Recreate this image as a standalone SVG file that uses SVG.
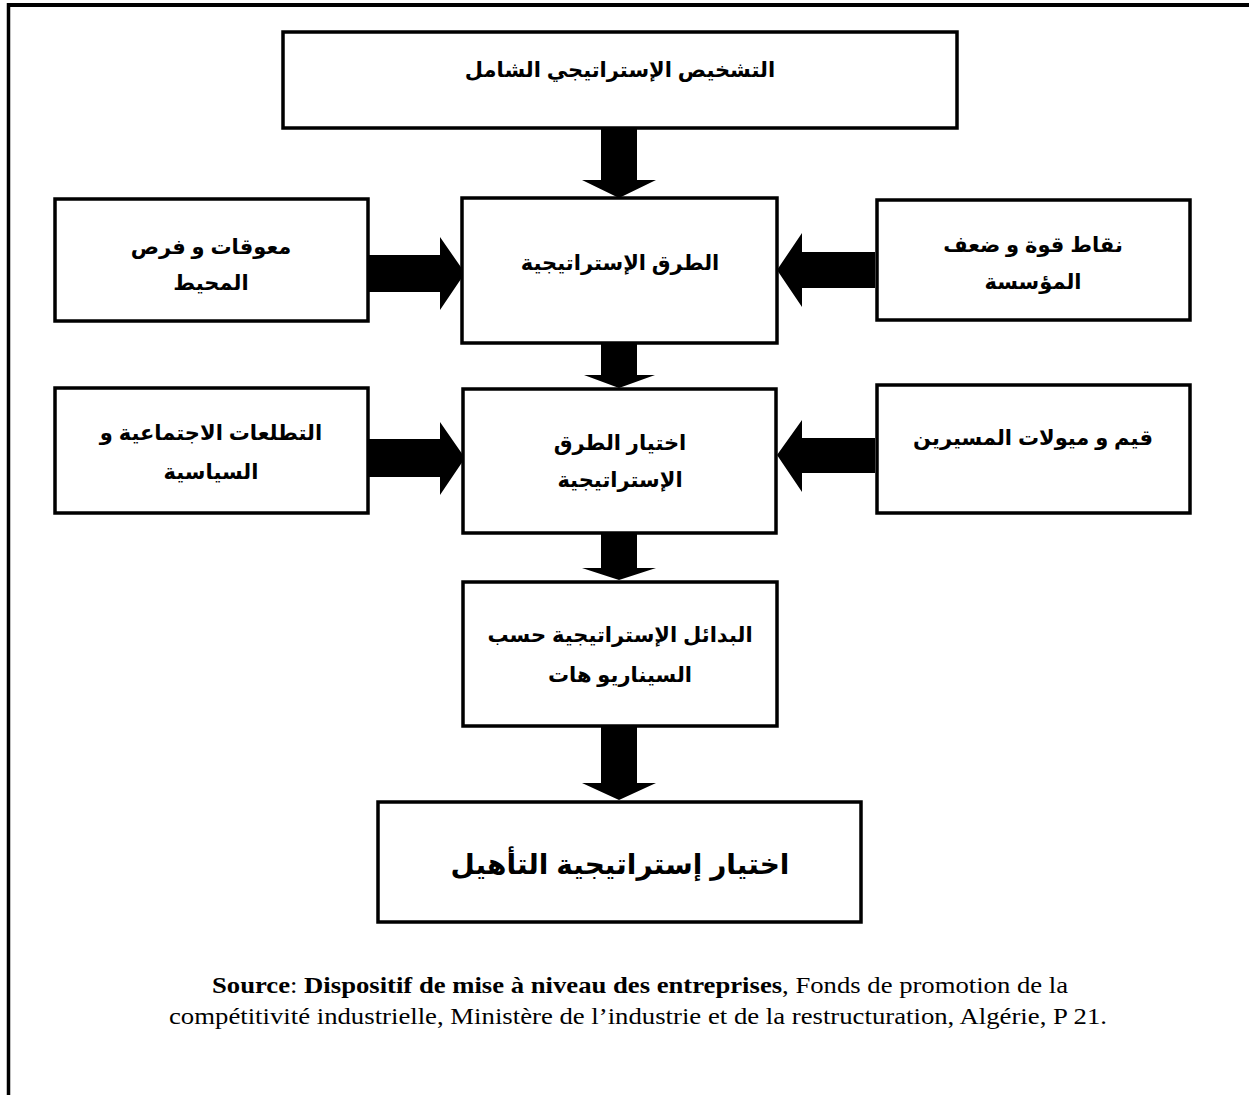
<svg xmlns="http://www.w3.org/2000/svg" width="1249" height="1095" viewBox="0 0 1249 1095">
<style>
.box{fill:#fff;stroke:#000;stroke-width:3.5}
.ar{font-family:"Liberation Sans","DejaVu Sans",sans-serif;font-weight:bold;font-size:21px;fill:#000;text-anchor:middle;direction:rtl}
.big{font-size:28px}
.arrow{fill:#000;stroke:none}
.src{font-family:"Liberation Serif","Times New Roman",serif;font-size:24px;fill:#000;text-anchor:middle}
.b{font-weight:bold}
</style>
<rect width="1249" height="1095" fill="#fff"/>
<g id="frame">
<line x1="7" y1="5" x2="1249" y2="5" stroke="#000" stroke-width="4"/>
<line x1="8.5" y1="3" x2="8.5" y2="1095" stroke="#000" stroke-width="3.5"/>
</g>
<g id="connectors">
<polygon class="arrow" points="601,128 637,128 637,180 656,180 619,198 582,180 601,180"/>
<polygon class="arrow" points="601,343 637,343 637,375 655,375 619,388 584,375 601,375"/>
<polygon class="arrow" points="601,533 637,533 637,568 656,568 619,580 582,568 601,568"/>
<polygon class="arrow" points="601,726 637,726 637,783 656,783 619,800 582,783 601,783"/>
<polygon class="arrow" points="368,255 440,255 440,237 465,273 440,310 440,292 368,292"/>
<polygon class="arrow" points="875,252 802,252 802,233 777,270 802,307 802,288 875,288"/>
<polygon class="arrow" points="368,439 440,439 440,422 465,458 440,495 440,477 368,477"/>
<polygon class="arrow" points="875,438 802,438 802,420 777,455 802,492 802,473 875,473"/>
</g>
<g id="n-diagnostic">
<rect class="box" x="283" y="32" width="674" height="96"/>
<text class="ar" x="620" y="77">التشخيص الإستراتيجي الشامل</text>
</g>
<g id="n-routes">
<rect class="box" x="462" y="198" width="315" height="145"/>
<text class="ar" x="620" y="270">الطرق الإستراتيجية</text>
</g>
<g id="n-env">
<rect class="box" x="55" y="199" width="313" height="122"/>
<text class="ar" x="211" y="254">معوقات و فرص</text>
<text class="ar" x="211" y="290">المحيط</text>
</g>
<g id="n-strength">
<rect class="box" x="877" y="200" width="313" height="120"/>
<text class="ar" x="1033" y="252">نقاط قوة و ضعف</text>
<text class="ar" x="1033" y="289">المؤسسة</text>
</g>
<g id="n-social">
<rect class="box" x="55" y="388" width="313" height="125"/>
<text class="ar" x="211" y="440">التطلعات الاجتماعية و</text>
<text class="ar" x="211" y="479">السياسية</text>
</g>
<g id="n-choice">
<rect class="box" x="463" y="389" width="313" height="144"/>
<text class="ar" x="620" y="450">اختيار الطرق</text>
<text class="ar" x="620" y="487">الإستراتيجية</text>
</g>
<g id="n-values">
<rect class="box" x="877" y="385" width="313" height="128"/>
<text class="ar" x="1033" y="445">قيم و ميولات المسيرين</text>
</g>
<g id="n-alternatives">
<rect class="box" x="463" y="582" width="314" height="144"/>
<text class="ar" x="620" y="642">البدائل الإستراتيجية حسب</text>
<text class="ar" x="620" y="682">السيناريو هات</text>
</g>
<g id="n-final">
<rect class="box" x="378" y="802" width="483" height="120"/>
<text class="ar big" x="620" y="874">اختيار إستراتيجية التأهيل</text>
</g>
<g id="source">
<text class="src" x="640" y="993" textLength="856" lengthAdjust="spacingAndGlyphs"><tspan class="b">Source</tspan>: <tspan class="b">Dispositif de mise à niveau des entreprises</tspan>, Fonds de promotion de la</text>
<text class="src" x="638" y="1024" textLength="938" lengthAdjust="spacingAndGlyphs">compétitivité industrielle, Ministère de l’industrie et de la restructuration, Algérie, P 21.</text>
</g>
</svg>
